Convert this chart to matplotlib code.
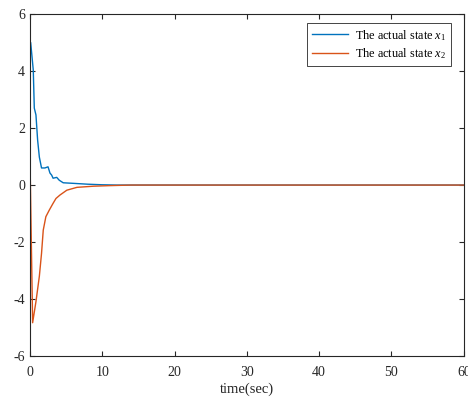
import numpy as np
import matplotlib.pyplot as plt

plt.rcParams.update({
    'font.family': 'Liberation Serif',
    'mathtext.fontset': 'custom',
    'mathtext.rm': 'Liberation Serif',
    'mathtext.it': 'Liberation Serif:italic',
    'font.size': 10,
    'axes.unicode_minus': False,
    'axes.linewidth': 0.8,
    'xtick.direction': 'in',
    'ytick.direction': 'in',
    'xtick.top': True,
    'ytick.right': True,
    'xtick.major.size': 3.5,
    'ytick.major.size': 3.5,
})

# state x1
t1 = [0.0, 0.1, 0.46, 0.6, 0.83, 1.06, 1.3, 1.6, 2.07, 2.5, 2.77, 3.0, 3.2,
      3.7, 4.05, 4.6, 6.0, 8.0, 10.0, 12.0, 60.0]
x1 = [5.0, 5.0, 4.03, 2.7, 2.46, 1.58, 0.98, 0.6, 0.6, 0.64, 0.42, 0.35, 0.24,
      0.27, 0.17, 0.08, 0.06, 0.03, 0.01, 0.0, 0.0]

# state x2
t2 = [0.0, 0.37, 0.83, 1.3, 1.6, 1.84, 2.2, 2.67, 3.2, 3.6, 4.15, 5.1, 6.5,
      8.8, 11.0, 14.0, 60.0]
x2 = [1.0, -4.83, -4.09, -3.2, -2.4, -1.58, -1.11, -0.88, -0.64, -0.47, -0.35,
      -0.18, -0.08, -0.04, -0.02, 0.0, 0.0]

fig = plt.figure(figsize=(4.68, 4.01), dpi=100)
ax = fig.add_axes([0.064, 0.112, 0.927, 0.853])

ax.plot(t1, x1, color='#0072BD', lw=1.0, label='The actual state $x_1$')
ax.plot(t2, x2, color='#D95319', lw=1.0, label='The actual state $x_2$')

ax.set_xlim(0, 60)
ax.set_ylim(-6, 6)
ax.set_xticks(np.arange(0, 61, 10))
ax.set_yticks(np.arange(-6, 7, 2))
ax.tick_params(colors='#262626', labelsize=10)
ax.tick_params(axis='x', pad=7)
for s in ax.spines.values():
    s.set_color('#262626')
ax.set_xlabel('time(sec)', fontsize=10.5, color='#262626', labelpad=3)

leg = ax.legend(loc='upper right', bbox_to_anchor=(0.978, 0.985), fontsize=8.8,
                fancybox=False, framealpha=1, edgecolor='#262626',
                handlelength=3.0, handletextpad=0.5, borderpad=0.4,
                labelspacing=0.3, borderaxespad=0.3)
leg.get_frame().set_linewidth(0.6)

fig.savefig('out.png', dpi=100)
